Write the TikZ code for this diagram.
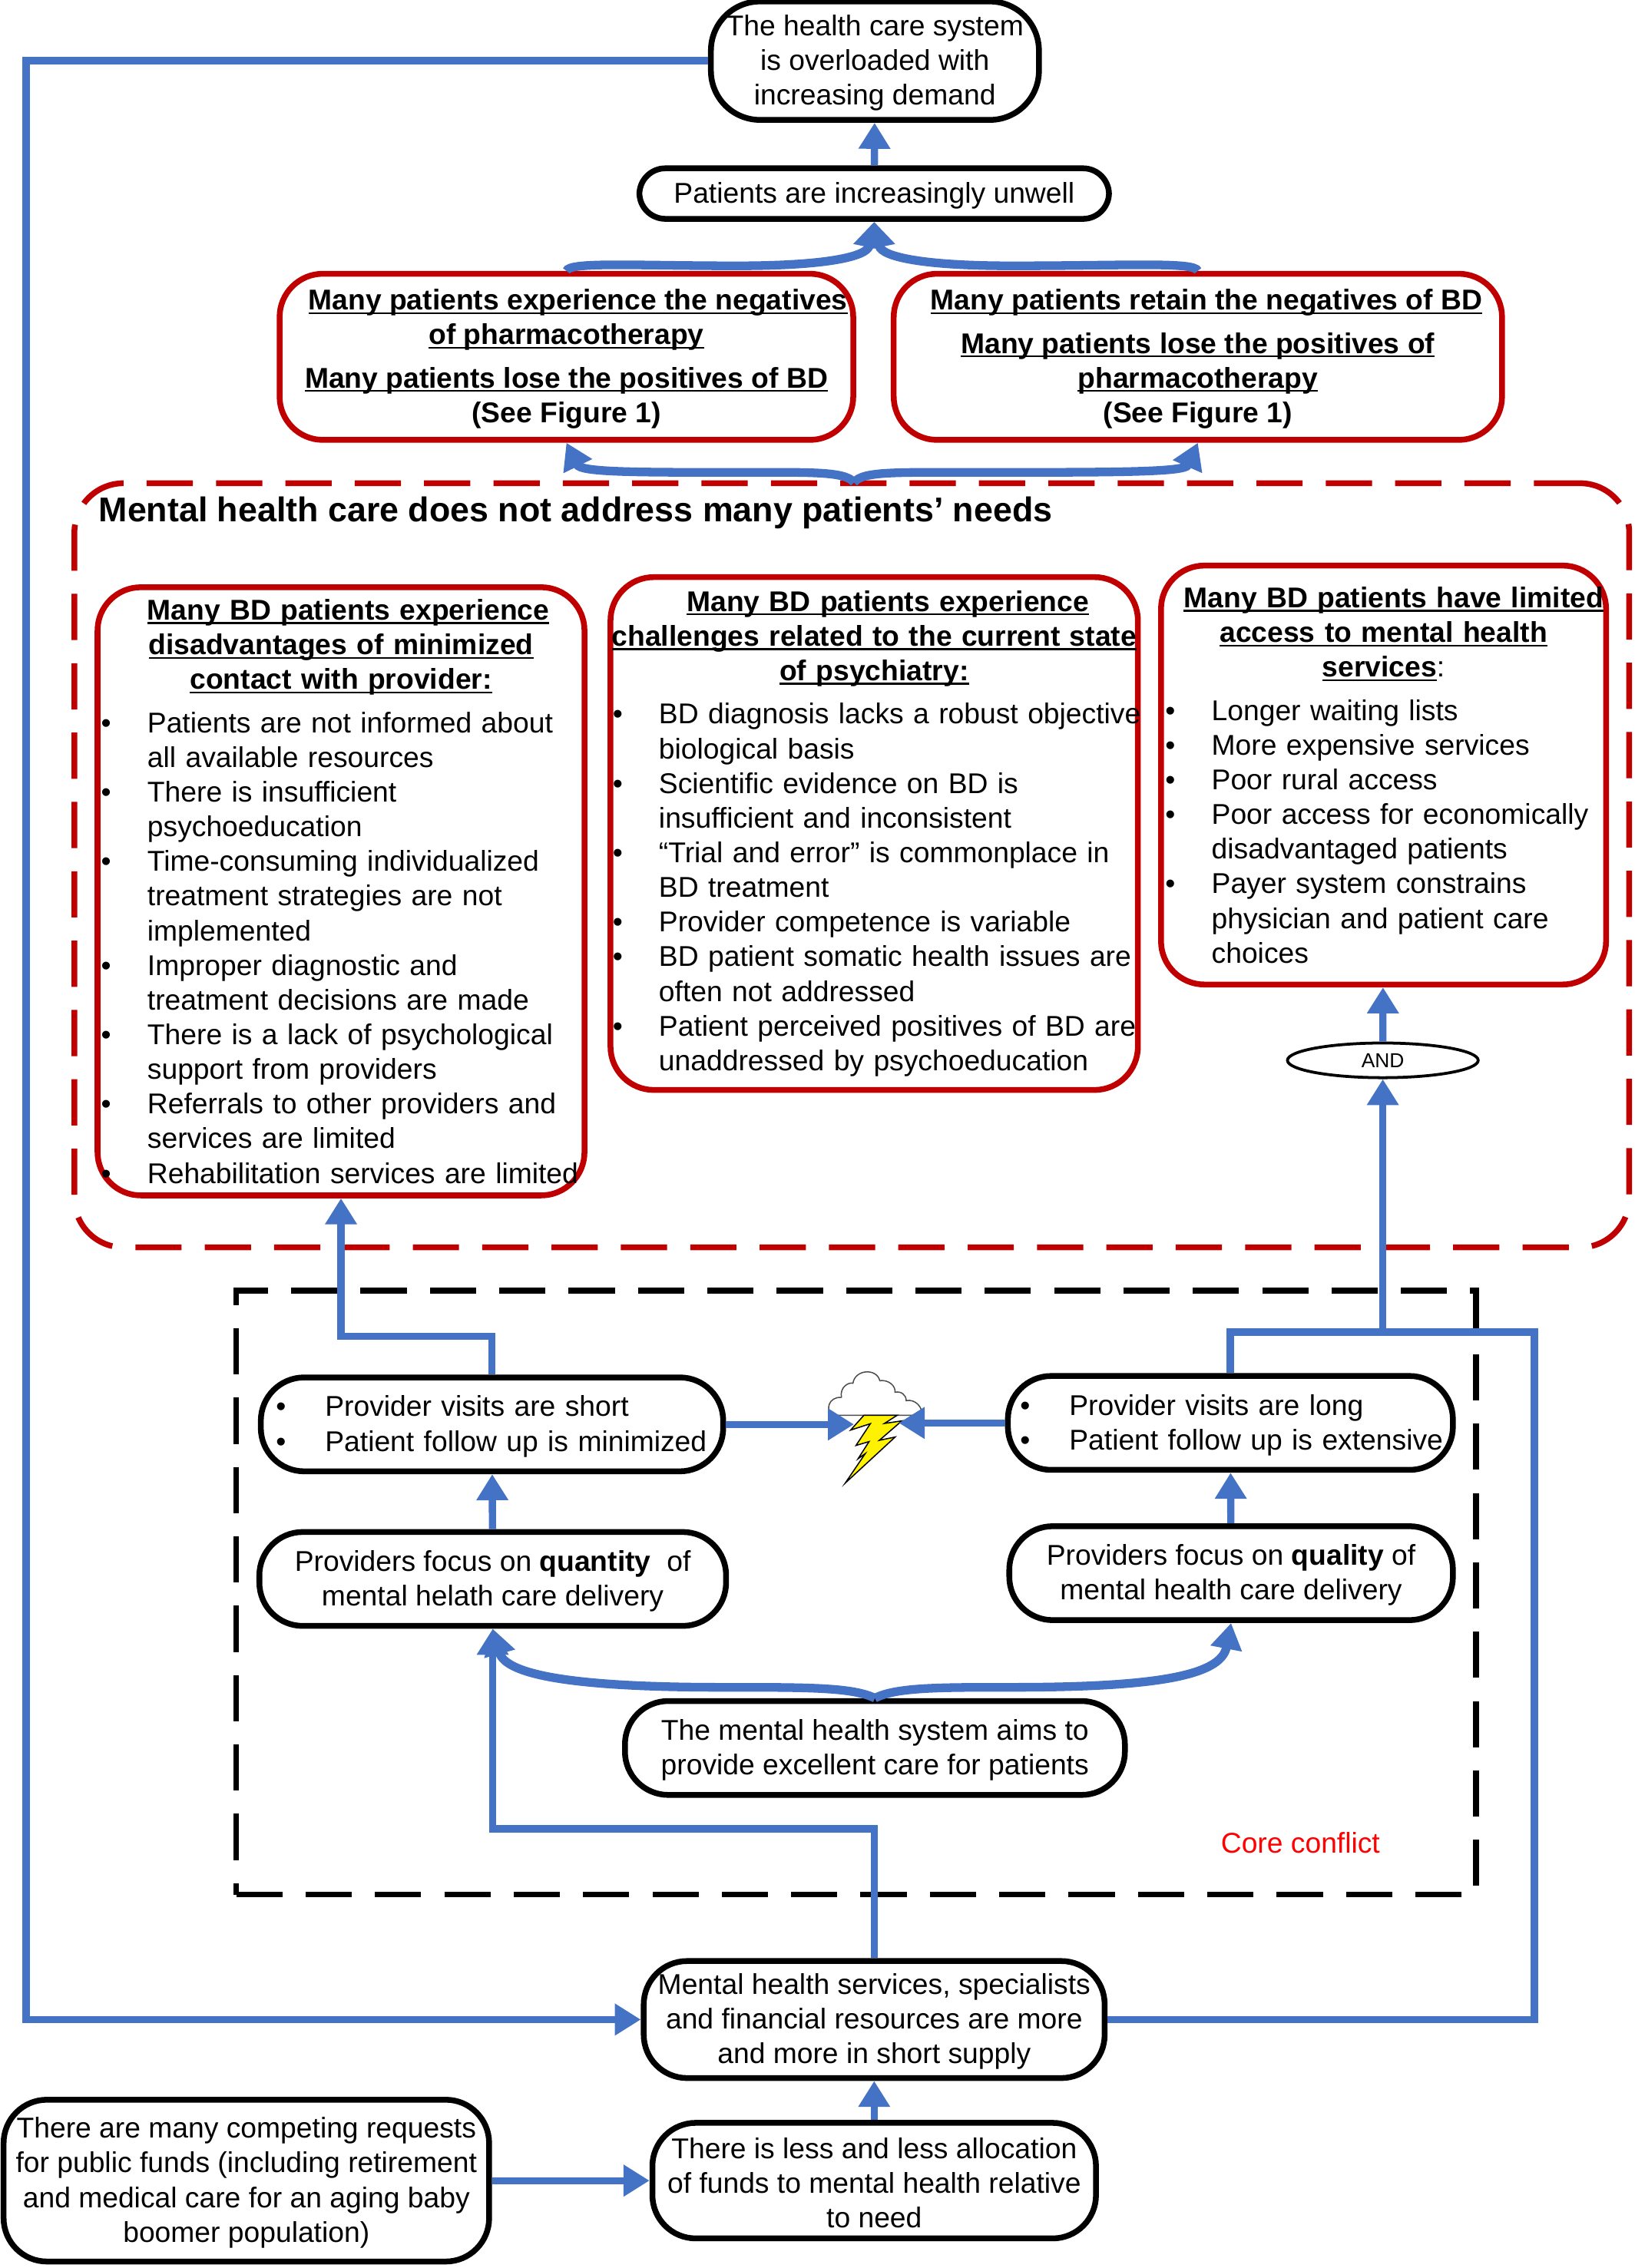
\documentclass[tikz,border=0pt]{standalone}
\usepackage{fontspec}
\setmainfont{Liberation Sans}
\usetikzlibrary{arrows.meta, shapes.geometric}
\newsavebox{\ulbox}
\newcommand{\bl}[1][16pt]{\makebox[#1][l]{\textbullet}}
\newcommand{\ind}{\hspace*{16pt}}
\newcommand{\ctr}[1]{\makebox[\linewidth]{#1}}
\newcommand{\hd}[1]{\sbox{\ulbox}{\textbf{#1}}\usebox{\ulbox}\llap{\rule[-1.4pt]{\wd\ulbox}{0.6pt}}}
\newcommand{\tp}{\rule{0pt}{8.6pt}}
\lefthyphenmin=62

\begin{document}
\begin{tikzpicture}[x=0.5pt,y=-0.5pt,>={Triangle[length=9pt,width=10.5pt]}]
  \tikzstyle{wh}=[minimum width=#1*0.5pt-0.5pt]
  \tikzstyle{ht}=[minimum height=#1*0.5pt-0.5pt]
  \tikzstyle{every node}=[font=\fontsize{9.9}{12}\selectfont, inner sep=0pt]
  \tikzstyle{blackbox}=[draw=black, line width=2pt, rounded corners=15pt, align=center]
  \tikzstyle{redbox}=[draw=redline, line width=2pt, rounded corners=15pt, align=center]
  \tikzstyle{listbox}=[redbox, align=left]
  \tikzstyle{flow}=[color=flowblue, draw, line width=2.5pt, ->]
  \tikzstyle{brace}=[flow, line width=3pt]
  \tikzstyle{link}=[color=flowblue, draw, line width=2.5pt]
  \tikzstyle{frame}=[line width=2pt, rounded corners=17pt, dash pattern=on 16pt off 8pt]
  \definecolor{flowblue}{HTML}{4472C4}
  \definecolor{redline}{HTML}{C00000}

  \useasboundingbox (0,0) rectangle (1131,1570);

  \node[frame, draw=redline, wh=1077, ht=530] (needs) at (589.5,599) {};
  \node[frame, draw=black, rounded corners=0pt, wh=859, ht=419] (core) at (592.5,1102.5) {};

  \node[blackbox, wh=228, ht=83, rounded corners=17pt] (system) at (605.5,42)
    {\tp The health care system\\is overloaded with\\increasing demand};
  \node[blackbox, wh=326, ht=36, rounded corners=9pt] (unwell) at (605,134)
    {\tp Patients are increasingly unwell};
  \node[redbox, wh=398, ht=116] (redl) at (392,247)
    {\tp\hspace*{8pt}\hd{Many patients experience the negatives}\\\hd{of pharmacotherapy}\\[3pt]
     \hd{Many patients lose the positives of BD}\\\textbf{(See Figure 1)}};
  \node[redbox, wh=422, ht=116] (redr) at (829,247)
    {\tp\hspace*{6pt}\hd{Many patients retain the negatives of BD}\\[3pt]\hd{Many patients lose the positives of}\\
     \hd{pharmacotherapy}\\\textbf{(See Figure 1)}};

  \node[anchor=west, font=\fontsize{11.9}{13}\selectfont\bfseries] (needstitle) at (68,355)
    {Mental health care does not address many patients’ needs};

  \node[listbox, wh=338, ht=422, text width=166pt] (contact) at (236,617)
    {\ctr{\hspace*{5pt}\hd{Many BD patients experience}}\\\ctr{\hd{disadvantages of minimized}}\\
     \ctr{\hd{contact with provider:}}\\[3pt]
     \bl Patients are not informed about\\\ind all available resources\\
     \bl There is insufficient\\\ind psychoeducation\\
     \bl Time-consuming individualized\\\ind treatment strategies are not\\\ind implemented\\
     \bl Improper diagnostic and\\\ind treatment decisions are made\\
     \bl There is a lack of psychological\\\ind support from providers\\
     \bl Referrals to other providers and\\\ind services are limited\\
     \bl Rehabilitation services are limited};
  \node[listbox, wh=366, ht=356, text width=181pt] (psych) at (605,577)
    {\ctr{\hspace*{9.5pt}\hd{Many BD patients experience}}\\\ctr{\hd{challenges related to the current state}}\\
     \ctr{\hd{of psychiatry:}}\\[3pt]
     \bl\mbox{BD diagnosis lacks a robust objective}\\\ind biological basis\\
     \bl Scientific evidence on BD is\\\ind insufficient and inconsistent\\
     \bl “Trial and error” is commonplace in\\\ind BD treatment\\
     \bl Provider competence is variable\\
     \bl\mbox{BD patient somatic health issues are}\\\ind often not addressed\\
     \bl\mbox{Patient perceived positives of BD are}\\\ind unaddressed by psychoeducation};
  \node[listbox, wh=309, ht=291, text width=151pt] (access) at (957.5,536.5)
    {\ctr{\hspace*{7pt}\hd{Many BD patients have limited}}\\\ctr{\hd{access to mental health}}\\
     \ctr{\hd{services}:}\\[3pt]
     \bl Longer waiting lists\\
     \bl More expensive services\\
     \bl Poor rural access\\
     \bl Poor access for economically\\\ind disadvantaged patients\\
     \bl Payer system constrains\\\ind physician and patient care\\\ind choices};
  \node[draw, ellipse, line width=1pt, fill=white, minimum width=66pt, minimum height=12pt,
        font=\fontsize{7}{8}\selectfont] (and) at (957,734) {AND};

  \node[blackbox, wh=321, ht=66, align=left, text width=149.5pt] (short) at (340.5,986)
    {\tp\bl[17pt]\mbox{Provider visits are short}\\\bl[17pt]\mbox{Patient follow up is minimized}};
  \node[blackbox, wh=309, ht=66, align=left, text width=145.5pt] (long) at (851.5,985)
    {\tp\bl[17pt]\mbox{Provider visits are long}\\\bl[17pt]\mbox{Patient follow up is extensive}};
  \node[blackbox, wh=324, ht=66] (quantity) at (341,1093)
    {\tp Providers focus on \textbf{quantity}\ \ of\\mental helath care delivery};
  \node[blackbox, wh=308, ht=66] (quality) at (852,1089)
    {\tp Providers focus on \textbf{quality} of\\mental health care delivery};
  \node[blackbox, wh=347, ht=66] (aims) at (605.5,1210)
    {\tp The mental health system aims to\\provide excellent care for patients};
  \node[text=red] (corelabel) at (900,1274) {\tp Core conflict};
  \node[blackbox, wh=320, ht=82] (services) at (605,1398)
    {\tp Mental health services, specialists\\and financial resources are more\\and more in short supply};
  \node[blackbox, wh=308, ht=81] (less) at (605,1509.5)
    {\tp There is less and less allocation\\of funds to mental health relative\\to need};
  \node[blackbox, wh=337, ht=113] (compete) at (170.5,1509.5)
    {\tp There are many competing requests\\for public funds (including retirement\\
     and medical care for an aging baby\\boomer population)};

  \begin{scope}[shift={(504.9,903.5)},scale=0.17716]
    \draw[fill=white, draw=black!70, line width=0.4pt] (400,430) .. controls (375,410) and (385,358) .. (437,360)
      .. controls (430,320) and (465,300) .. (482,305) .. controls (490,250) and (575,245) .. (587,295)
      .. controls (620,290) and (650,315) .. (646,340) .. controls (670,335) and (690,350) .. (690,373)
      .. controls (725,365) and (755,400) .. (750,425) -- (730,430) -- cycle;
    \draw[fill=yellow, draw=black, line width=0.4pt] (525,430) -- (655,430) -- (605,462) -- (673,452)
      -- (585,528) -- (647,515) -- (452,695) -- (530,580) -- (502,600) -- (545,533) -- (494,548)
      -- (550,463) -- (473,488) -- cycle;
  \end{scope}
  \coordinate (stormw) at (591,986);
  \coordinate (storme) at (622,985);

  \coordinate (leftrun) at (18,42);
  \coordinate (leftlow) at (18,1398);
  \coordinate (serviceturn) at (605,1266);
  \coordinate (rightlow) at (1062,1398);
  \coordinate (righttop) at (1062,922);
  \coordinate (longturn) at (851.5,922);
  \coordinate (andturn) at (957,922);
  \coordinate (shortturn) at (340.5,925);
  \coordinate (bracetop) at (591,334);

  \path[flow]
    (unwell) edge (system)
    (quantity) edge (short)
    (quality) edge (long)
    (less) edge (services)
    (compete) edge (less)
    (and) edge (access)
    (short) edge (stormw)
    (long) edge (storme);

  \draw[flow] (system.west) -- (leftrun) -- (leftlow) -- (services.west);
  \draw[flow] (services.north) -- (serviceturn) -| (quantity.south);
  \draw[link, line join=miter] (services.east) -- (rightlow) -- (righttop) -- (longturn) -- (long.north);
  \draw[flow] (andturn) -- (and.south);
  \draw[flow] (short.north) -- (shortturn) -| (contact.south);

  \draw[brace] (redl.north) .. controls (394,181) and (440,184) .. (510,184)
    .. controls (570,184) and (600,178) .. (unwell.south);
  \draw[brace] (redr.north) .. controls (827,181) and (780,184) .. (700,184)
    .. controls (640,184) and (610,178) .. (unwell.south);
  \draw[brace] (bracetop) .. controls (585,326) and (560,327) .. (510,327)
    .. controls (440,327) and (402,327) .. (redl.south);
  \draw[brace] (bracetop) .. controls (597,326) and (620,327) .. (680,327)
    .. controls (770,327) and (820,327) .. (redr.south);
  \draw[brace] (aims.north) .. controls (590,1168) and (560,1168) .. (500,1168)
    .. controls (400,1168) and (350,1160) .. (quantity.south);
  \draw[brace] (aims.north) .. controls (620,1168) and (650,1168) .. (700,1168)
    .. controls (800,1168) and (845,1160) .. (quality.south);
\end{tikzpicture}
\end{document}
